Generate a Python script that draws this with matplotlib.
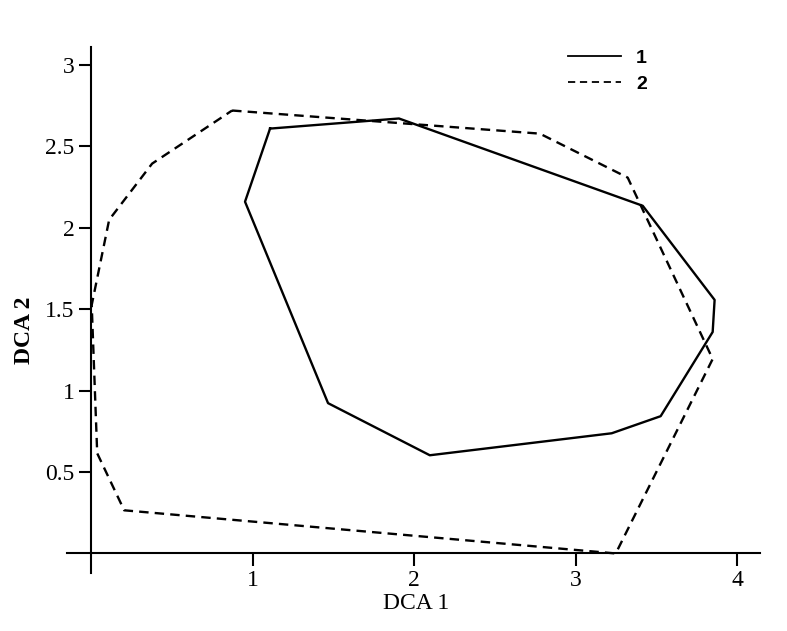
import matplotlib
matplotlib.use("Agg")
import matplotlib.pyplot as plt

# group 1 (solid hull)
g1_x = [1.107, 1.905, 3.414, 3.859, 3.847, 3.525, 3.222, 2.096, 1.466, 0.952, 1.107]
g1_y = [2.609, 2.671, 2.135, 1.557, 1.360, 0.843, 0.738, 0.603, 0.923, 2.160, 2.609]

# group 2 (dashed hull)
g2_x = [0.872, 2.777, 3.321, 3.847, 3.247, 0.204, 0.037, 0.003, 0.111, 0.377, 0.872]
g2_y = [2.720, 2.578, 2.308, 1.194, 0.000, 0.265, 0.615, 1.526, 2.049, 2.394, 2.720]

xticks = [1, 2, 3, 4]
yticks = [0.5, 1, 1.5, 2, 2.5, 3]
labels = ['1', '2']

plt.rcParams['font.family'] = 'Liberation Serif'

fig = plt.figure(figsize=(7.87, 6.31), dpi=100)
ax = fig.add_axes([67/787, 58/631, 693/787, 526/631])

ax.plot(g1_x, g1_y, color='black', lw=1.7, label=labels[0])
ax.plot(g2_x, g2_y, color='black', lw=1.7, linestyle=(0, (4, 2.6)), label=labels[1])

ax.set_xlim(-0.15, 4.14)
ax.set_ylim(-0.12, 3.11)
ax.spines['left'].set_position(('data', 0))
ax.spines['bottom'].set_position(('data', 0))
ax.spines['top'].set_visible(False)
ax.spines['right'].set_visible(False)
for s in ['left', 'bottom']:
    ax.spines[s].set_linewidth(1.5)

ax.set_xticks(xticks)
ax.set_yticks(yticks)
ax.set_yticklabels(['0.5', '1', '1.5', '2', '2.5', '3'])
ax.tick_params(direction='out', length=9, width=1.5, labelsize=17, pad=3)

ax.set_xlabel('DCA 1', fontsize=17)
ax.set_ylabel('DCA 2', fontsize=17, fontweight='bold')
ax.xaxis.set_label_coords(0.504, -0.038)
ax.yaxis.set_label_coords(-0.046, 0.462)

leg = ax.legend(loc='upper left', bbox_to_anchor=(568/787, 1 - 49/631),
                bbox_transform=fig.transFigure, frameon=False,
                borderpad=0, borderaxespad=0, handlelength=2.75,
                handletextpad=0.75, labelspacing=0.45,
                prop={'family': 'Liberation Sans', 'weight': 'bold', 'size': 14})
for line in leg.get_lines():
    line.set_linewidth(1.3)

fig.savefig('out.png', dpi=100)
